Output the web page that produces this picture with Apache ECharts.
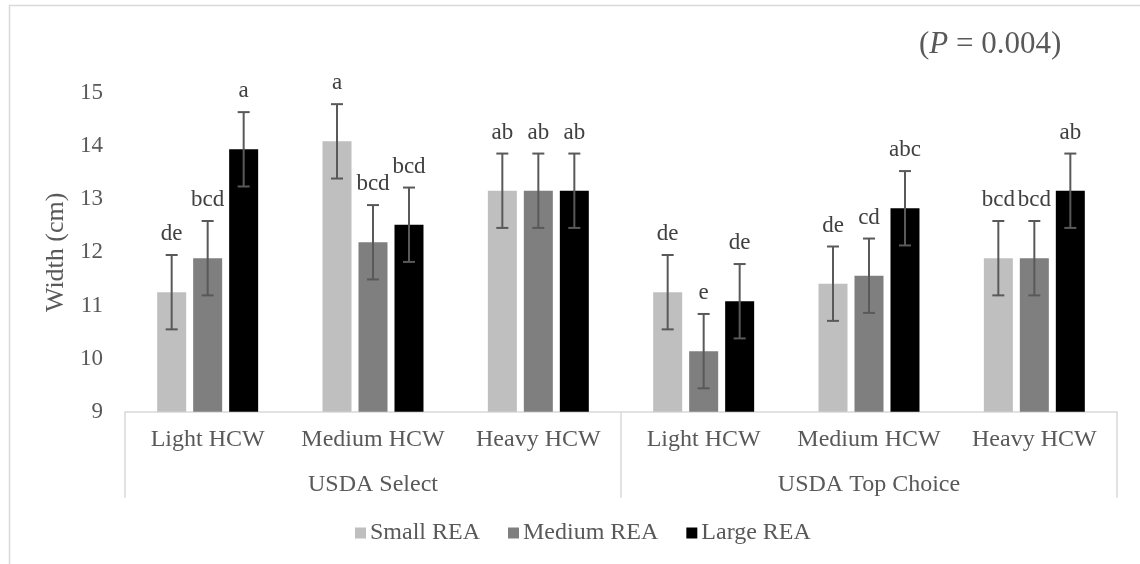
<!DOCTYPE html>
<html>
<head>
<meta charset="utf-8">
<script src="https://cdn.jsdelivr.net/npm/echarts@6/dist/echarts.min.js"></script>
<style>
html,body{margin:0;padding:0;background:#fff;}
#chart{width:1140px;height:564px;}
</style>
</head>
<body>
<div id="chart"></div>
<script>
// ---- data ----
const categories = ['Light HCW', 'Medium HCW', 'Heavy HCW', 'Light HCW', 'Medium HCW', 'Heavy HCW'];
const groups = ['USDA Select', 'USDA Top Choice'];
const seriesNames = ['Small REA', 'Medium REA', 'Large REA'];
const smallREA = [11.25, 14.09, 13.16, 11.25, 11.41, 11.89];
const mediumREA = [11.89, 12.19, 13.16, 10.14, 11.56, 11.89];
const largeREA = [13.94, 12.52, 13.16, 11.08, 12.83, 13.16];
const smallErr = [0.7, 0.7, 0.7, 0.7, 0.7, 0.7];
const mediumErr = [0.7, 0.7, 0.7, 0.7, 0.7, 0.7];
const largeErr = [0.7, 0.7, 0.7, 0.7, 0.7, 0.7];
const smallLetters = ['de', 'a', 'ab', 'de', 'de', 'bcd'];
const mediumLetters = ['bcd', 'bcd', 'ab', 'e', 'cd', 'bcd'];
const largeLetters = ['a', 'bcd', 'ab', 'de', 'abc', 'ab'];
const yTicks = [9, 10, 11, 12, 13, 14, 15];
const pText = '0.004';

// ---- styles ----
const FONT = '"Liberation Serif", "Times New Roman", serif';
const colors = ['#bfbfbf', '#7f7f7f', '#000000'];
const BAR_W = 29, BAR_GAP = 7;

const values = [smallREA, mediumREA, largeREA];
const errs = [smallErr, mediumErr, largeErr];
const letters = [smallLetters, mediumLetters, largeLetters];

const chart = echarts.init(document.getElementById('chart'));

const barSeries = seriesNames.map((name, s) => ({
  name: name,
  type: 'bar',
  xAxisIndex: 0,
  yAxisIndex: 0,
  barWidth: BAR_W,
  barGap: (BAR_GAP / BAR_W * 100).toFixed(1) + '%',
  itemStyle: { color: colors[s] },
  data: values[s],
  z: 2
}));

const errSeries = seriesNames.map((name, s) => ({
  type: 'custom',
  xAxisIndex: 0,
  yAxisIndex: 0,
  z: 5,
  silent: true,
  encode: { x: 0, y: 1 },
  data: values[s].map((v, i) => [i, v, errs[s][i]]),
  renderItem: function (params, api) {
    const cat = api.value(0), v = api.value(1), e = api.value(2);
    const off = (s - 1) * (BAR_W + BAR_GAP);
    const top = api.coord([cat, v + e]);
    const bot = api.coord([cat, v - e]);
    const x = top[0] + off;
    const cap = 6;
    const ls = { stroke: '#595959', lineWidth: 2 };
    return {
      type: 'group',
      children: [
        { type: 'line', shape: { x1: x, y1: top[1], x2: x, y2: bot[1] }, style: ls },
        { type: 'line', shape: { x1: x - cap, y1: top[1], x2: x + cap, y2: top[1] }, style: ls },
        { type: 'line', shape: { x1: x - cap, y1: bot[1], x2: x + cap, y2: bot[1] }, style: ls },
        { type: 'text', style: {
            text: letters[s][params.dataIndex], x: x, y: top[1] - 21,
            align: 'center', verticalAlign: 'middle',
            font: '23px ' + FONT, fill: '#404040' } }
      ]
    };
  }
}));

chart.setOption({
  animation: false,
  backgroundColor: '#fff',
  title: {
    text: '({i|P} = ' + pText + ')',
    left: 914,
    top: 24,
    textStyle: {
      fontFamily: FONT, fontSize: 31, fontWeight: 'normal', color: '#595959',
      rich: { i: { fontFamily: FONT, fontSize: 31, fontStyle: 'italic', color: '#595959' } }
    }
  },
  graphic: [{
    type: 'rect',
    shape: { x: 9.5, y: 5.5, width: 1200, height: 600 },
    style: { fill: 'none', stroke: '#d9d9d9', lineWidth: 1.5 },
    silent: true
  }],
  legend: {
    data: seriesNames,
    left: 350,
    top: 516,
    icon: 'rect',
    itemWidth: 11,
    itemHeight: 11,
    itemGap: 28,
    textStyle: { fontFamily: FONT, fontSize: 24, color: '#595959', padding: [0, 0, 0, -1] }
  },
  grid: { left: 125, right: 23, top: 93, bottom: 152.3, containLabel: false },
  xAxis: [{
    type: 'category',
    data: categories,
    position: 'bottom',
    axisLine: { show: true, lineStyle: { color: '#d9d9d9', width: 1.5 } },
    axisTick: { show: false },
    axisLabel: { interval: 0, margin: 16, fontFamily: FONT, fontSize: 24, color: '#595959' },
    splitLine: { show: false }
  }, {
    type: 'category',
    data: groups,
    position: 'bottom',
    axisLine: { show: false },
    axisTick: { show: true, length: 86, lineStyle: { color: '#d9d9d9', width: 1.5 } },
    axisLabel: { interval: 0, margin: 61, fontFamily: FONT, fontSize: 24, color: '#595959' },
    splitLine: { show: false }
  }],
  yAxis: {
    type: 'value',
    min: yTicks[0],
    max: yTicks[yTicks.length - 1],
    interval: 1,
    name: 'Width (cm)',
    nameLocation: 'middle',
    nameRotate: 90,
    nameGap: 48,
    nameTextStyle: { fontFamily: FONT, fontSize: 26, color: '#595959' },
    axisLine: { show: false },
    axisTick: { show: false },
    splitLine: { show: false },
    axisLabel: { margin: 22, fontFamily: FONT, fontSize: 23, color: '#595959' }
  },
  series: barSeries.concat(errSeries)
});
</script>
</body>
</html>
